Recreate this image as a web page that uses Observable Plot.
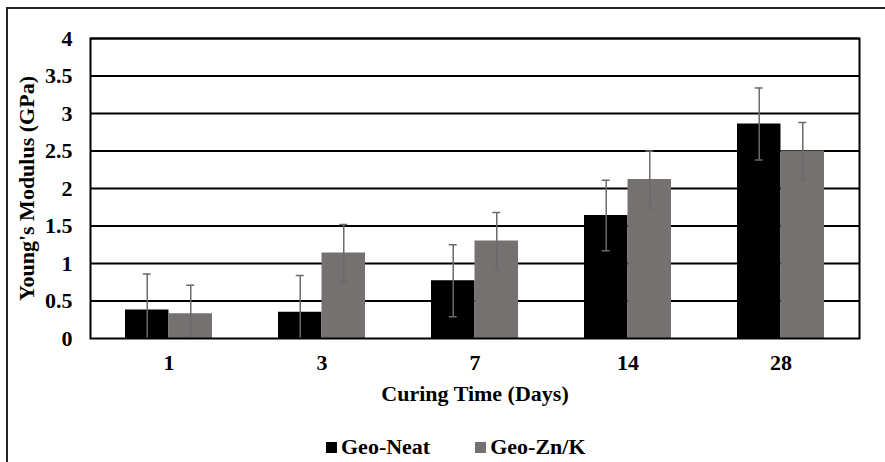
<!DOCTYPE html>
<html>
<head>
<meta charset="utf-8">
<script src="https://cdn.jsdelivr.net/npm/d3@7"></script>
<script src="https://cdn.jsdelivr.net/npm/@observablehq/plot@0.6"></script>
<style>
  html, body { margin: 0; background: #fff; overflow: hidden; }
  #wrap {
    position: relative; width: 885px; height: 462px; overflow: hidden; background: #fff;
    font-family: "Liberation Serif", "Times New Roman", serif; font-weight: bold; color: #000;
  }
  #border { position: absolute; left: 6px; top: 7px; right: 0; bottom: 0; border-left: 2px solid #262626; border-top: 2px solid #262626; }
  #chart { position: absolute; left: 0; top: 0; }
  #legend { position: absolute; left: 326px; top: 436px; display: flex; gap: 45px; font-size: 22px; line-height: 22px; }
  #legend .item { display: flex; align-items: center; }
  #legend .sw { width: 11px; height: 11px; margin-right: 4px; }
</style>
</head>
<body>
<div id="wrap">
  <div id="border"></div>
  <div id="chart"></div>
  <div id="legend"></div>
</div>
<script>
// Curing times (days) on the x axis
const days = ["1", "3", "7", "14", "28"];
// Mix names and their bar colours
const series = ["Geo-Neat", "Geo-Zn/K"];
const colors = ["#000000", "#767171"];
// Young's modulus (GPa) and standard deviation per curing time
const neatValues = [0.38, 0.35, 0.77, 1.64, 2.86];
const neatErrors = [0.48, 0.49, 0.48, 0.47, 0.48];
const znkValues = [0.33, 1.14, 1.30, 2.12, 2.50];
const znkErrors = [0.38, 0.38, 0.38, 0.38, 0.38];
// y axis ticks
const yTicks = [0, 0.5, 1, 1.5, 2, 2.5, 3, 3.5, 4];

const values = [neatValues, znkValues];
const errors = [neatErrors, znkErrors];
const rows = series.flatMap((s, i) =>
  days.map((d, j) => ({day: d, series: s, value: values[i][j], err: errors[i][j]}))
);

// layout
const W = 885, H = 420;
const mLeft = 90, mRight = 26, mTop = 38, mBottom = 82;
const padInner = 0.434;
const step = (W - mLeft - mRight) / days.length;
const bw = step * (1 - padInner);   // width of a two-bar group
const half = bw / 2;
const capW = 8;

const marks = [
  Plot.ruleY(yTicks.slice(1), {stroke: "#000", strokeWidth: 2})
];
series.forEach((s, i) => {
  const data = rows.filter(r => r.series === s);
  const off = (i - 0.5) * half;           // centre offset of this bar within the group
  const c = half + off;                   // bar centre from group's left edge
  marks.push(
    Plot.barY(data, {
      x: "day", y: "value", fill: colors[i],
      insetLeft: i === 0 ? 0 : half, insetRight: i === 0 ? half : 0
    }),
    Plot.ruleX(data, {
      x: "day", y1: d => d.value - d.err, y2: d => d.value + d.err,
      dx: off, stroke: "#6a6a6a", strokeWidth: 1.5, clip: true
    }),
    Plot.tickY(data, {
      x: "day", y: d => d.value + d.err, stroke: "#6a6a6a", strokeWidth: 1.5,
      insetLeft: c - capW / 2, insetRight: bw - c - capW / 2, clip: true
    }),
    Plot.tickY(data.filter(d => d.value - d.err > 0), {
      x: "day", y: d => d.value - d.err, stroke: "#6a6a6a", strokeWidth: 1.5,
      insetLeft: c - capW / 2, insetRight: bw - c - capW / 2, clip: true
    })
  );
});
marks.push(Plot.frame({stroke: "#000", strokeWidth: 2}));

const chart = Plot.plot({
  width: W, height: H,
  marginLeft: mLeft, marginRight: mRight, marginTop: mTop, marginBottom: mBottom,
  style: {fontFamily: '"Liberation Serif", "Times New Roman", serif', fontSize: "22px", fontWeight: "bold", color: "#000", background: "transparent"},
  x: {type: "band", domain: days, paddingInner: padInner, paddingOuter: padInner / 2,
      tickSize: 0, tickPadding: 16, label: "Curing Time (Days)", labelAnchor: "center", labelOffset: 62, labelArrow: "none"},
  y: {domain: [0, 4], ticks: yTicks, tickFormat: d => String(d), tickSize: 0, tickPadding: 18,
      label: "Young's Modulus (GPa)", labelAnchor: "center", labelOffset: 72, labelArrow: "none"},
  marks
});
document.getElementById("chart").appendChild(chart);

// legend
const legend = document.getElementById("legend");
series.forEach((s, i) => {
  const item = document.createElement("div");
  item.className = "item";
  const sw = document.createElement("span");
  sw.className = "sw";
  sw.style.background = colors[i];
  const t = document.createElement("span");
  t.textContent = s;
  item.append(sw, t);
  legend.appendChild(item);
});
</script>
</body>
</html>
